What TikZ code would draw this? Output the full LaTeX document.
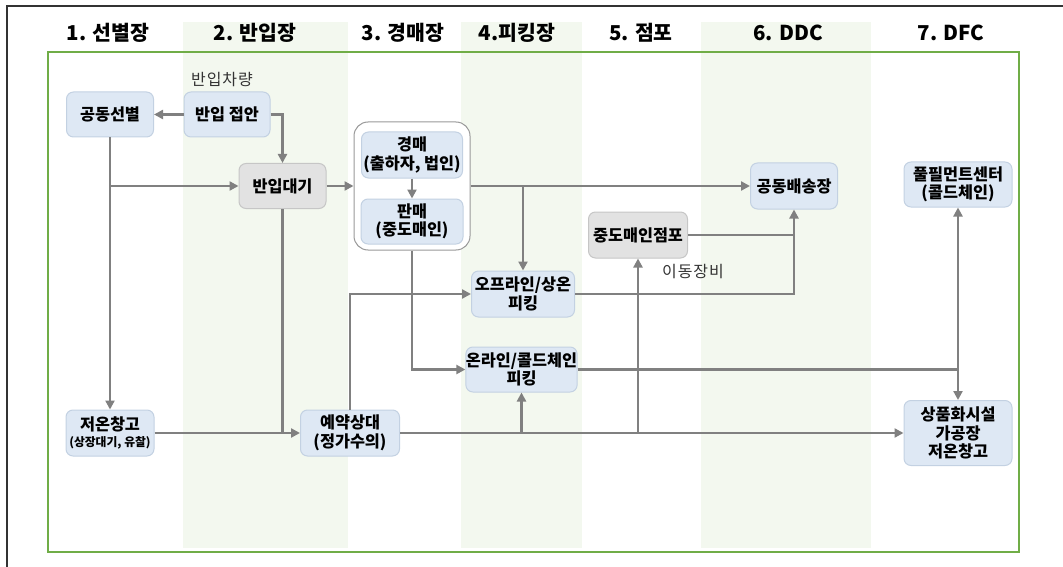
\documentclass[tikz,border=0pt]{standalone}
\usepackage{fontspec}
\setmainfont{Noto Sans CJK KR}
\newfontfamily\notefam[LetterSpace=6]{Noto Sans CJK KR}
\usetikzlibrary{arrows.meta,positioning}

\definecolor{boxblue}{HTML}{DEE8F4}
\definecolor{boxline}{HTML}{C3D1E2}
\definecolor{greybox}{HTML}{E2E2E2}
\definecolor{greyline}{HTML}{C6C6C6}
\definecolor{flow}{HTML}{808080}
\definecolor{stripe}{HTML}{F3F8EF}
\definecolor{framegreen}{HTML}{70AD47}

\newcommand{\headfont}{\fontsize{20.5}{22}\selectfont\bfseries}
\newcommand{\boxfont}{\fontsize{16.3}{18.5}\selectfont\bfseries}
\newcommand{\tinyfont}{\fontsize{11.8}{13}\selectfont\bfseries}
\newcommand{\notefont}{\fontsize{16}{18}\notefam\selectfont}

\tikzset{
  stage/.style={rounded corners=7pt, draw=boxline, fill=boxblue,
    line width=1pt, align=center, inner sep=0pt, font=\boxfont},
  waitbox/.style={stage, draw=greyline, fill=greybox},
  head/.style={font=\headfont, anchor=center},
  note/.style={font=\notefont, text=black!80},
  flowline/.style={draw=flow, line width=2.9pt},
  flowarrow/.style={flowline, -{Triangle[length=9pt,width=9pt]}}
}

\begin{document}
\begin{tikzpicture}[x=1pt,y=-1pt]
\useasboundingbox (0,0) rectangle (1063,567);

% column stripes
\fill[stripe] (182.5,22) rectangle (348,548);
\fill[stripe] (461,22) rectangle (582,548);
\fill[stripe] (701,22) rectangle (871,548);

% outer frames
\draw[black!80, line width=1.8pt] (1063,6) -- (7,6) -- (7,567);
\draw[framegreen, line width=2.8pt] (48,52) rectangle (1019,552);

% column heads
\node[head] (h1) at (108,33) {1. 선별장};
\node[head] (h2) at (255,33) {2. 반입장};
\node[head] (h3) at (403,33) {3. 경매장};
\node[head] (h4) at (517,33) {4.피킹장};
\node[head] (h5) at (641,33) {5. 점포};
\node[head] (h6) at (788,33) {6. DDC};
\node[head] (h7) at (951,33) {7. DFC};

% auction group
\node[draw=flow!80, fill=white, rounded corners=14pt, line width=1pt,
      minimum width=116pt, minimum height=128pt] (grp) at (412,186) {};

% stages
\node[stage, minimum width=87pt, minimum height=45pt] (sel) at (110,114.5) {공동선별};
\node[stage, minimum width=86pt, minimum height=45pt] (jeop) at (227,114.5) {반입 접안};
\node[note] (car) at (222,80) {반입차량};
\node[waitbox, minimum width=87pt, minimum height=45pt] (daegi) at (282.5,186) {반입대기};
\node[stage, minimum width=101pt, minimum height=46pt] (gyeong) at (412,155) {경매\\(출하자, 법인)};
\node[stage, minimum width=102pt, minimum height=45pt] (panmae) at (412,221.5) {판매\\(중도매인)};
\node[stage, minimum width=87pt, minimum height=46pt] (baesong) at (794,186) {공동배송장};
\node[stage, minimum width=108pt, minimum height=45pt] (fulfil) at (958,184.5) {풀필먼트센터\\(콜드체인)};
\node[waitbox, minimum width=99pt, minimum height=46pt] (jeompo) at (638,235) {중도매인점포};
\node[note] (cart) at (693,272) {이동장비};
\node[stage, minimum width=103pt, minimum height=46pt] (off) at (523,294) {오프라인/상온\\피킹};
\node[stage, minimum width=109pt, minimum height=45pt] (on) at (521.5,369.5) {온라인/콜드체인\\피킹};
\node[stage, minimum width=88pt, minimum height=46pt] (cold) at (110,433) {저온창고\\[-2pt]{\tinyfont(상장대기, 유찰)}};
\node[stage, minimum width=99pt, minimum height=46pt] (yeyak) at (350,433) {예약상대\\(정가수의)};
\node[stage, minimum width=108pt, minimum height=65pt] (prod) at (958,433) {상품화시설\\가공장\\저온창고};

% junctions
\coordinate (b1) at (sel.south |- daegi.west);
\coordinate (b2) at (daegi.south |- cold.east);
\coordinate (b3) at (grp.east -| off.north);
\coordinate (b4) at (yeyak.east -| on.south);
\coordinate (b5) at (yeyak.east -| jeompo.south);
\coordinate (b6) at (on.east -| fulfil.south);
\coordinate (b7) at (jeompo.east -| baesong.south);

% flows
\draw[flowarrow] (jeop.west) -- (sel.east);
\draw[flowarrow] (jeop.east) -| (daegi.north);
\draw[flowarrow] (sel.south) -- (cold.north);
\draw[flowarrow] (b1) -- (daegi.west);
\draw[flowarrow] (daegi.east) -- (grp.west);
\draw[flowarrow, line width=2.4pt] (gyeong.south) -- (panmae.north);
\draw[flowarrow] (grp.east) -- (baesong.west);
\draw[flowarrow] (b3) -- (off.north);
\draw[flowline] (daegi.south) -- (b2);
\draw[flowarrow] (cold.east) -- (yeyak.west);
\draw[flowarrow] (grp.south) |- (on.west);
\draw[flowarrow] (yeyak.north) |- (off.west);
\draw[flowarrow] (yeyak.east) -- (prod.west);
\draw[flowarrow] (b4) -- (on.south);
\draw[flowarrow] (b5) -- (jeompo.south);
\draw[flowarrow] (off.east) -| (baesong.south);
\draw[flowline] (jeompo.east) -- (b7);
\draw[flowarrow] (on.east) -| (prod.north);
\draw[flowarrow] (b6) -- (fulfil.south);

\end{tikzpicture}
\end{document}
